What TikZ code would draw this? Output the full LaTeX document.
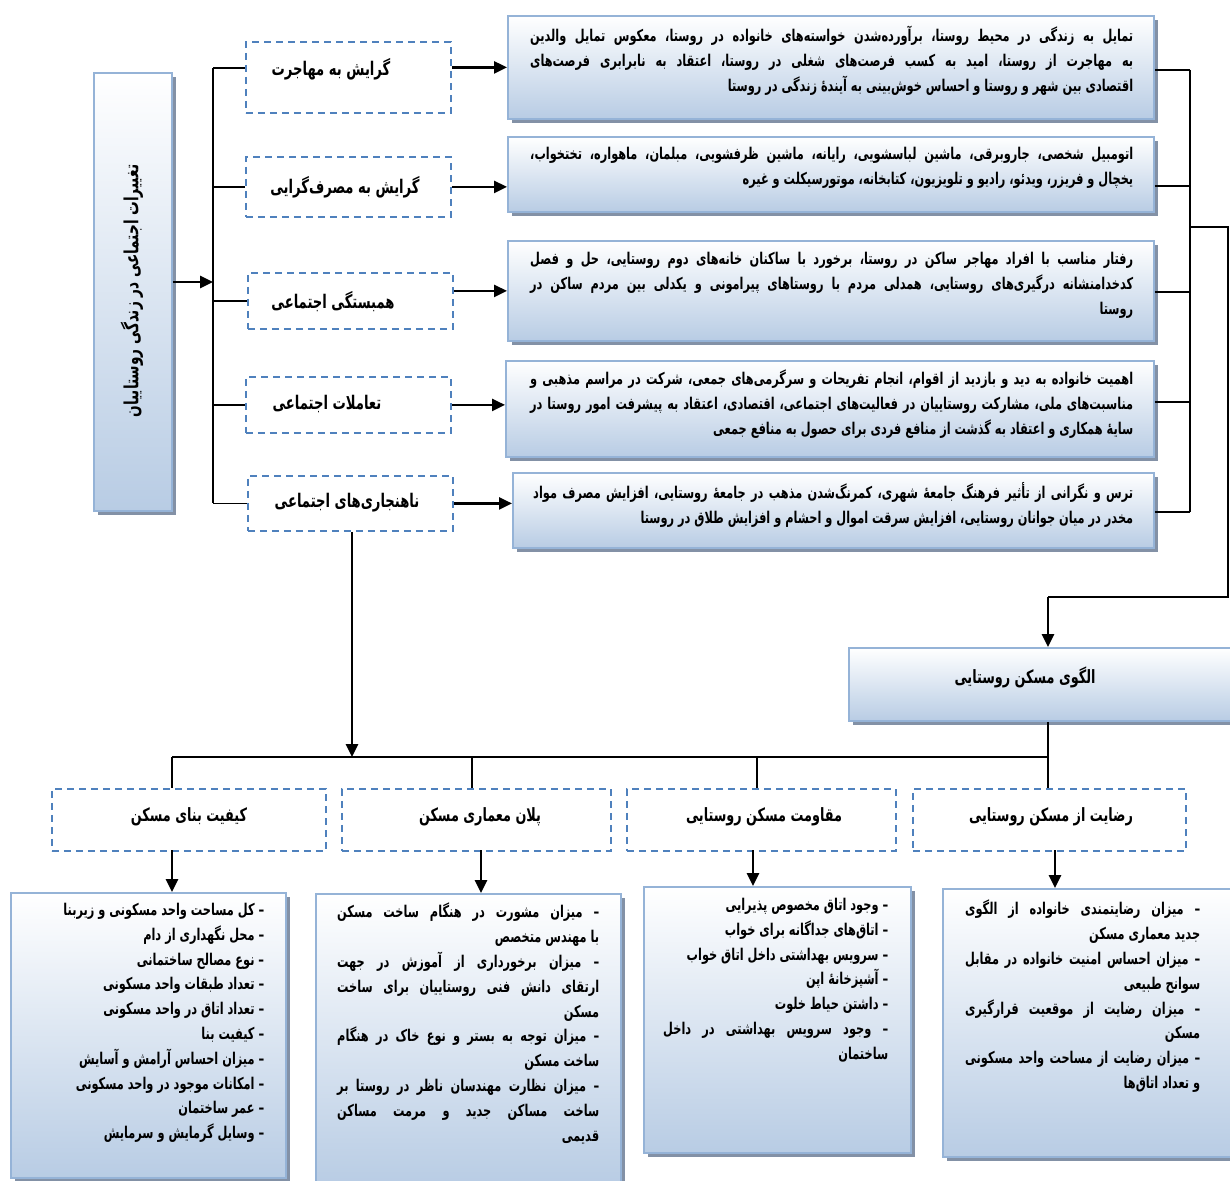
\documentclass[tikz,border=0pt]{standalone}
\usepackage{fontspec}
\newfontfamily\fa[Script=Arabic,FakeStretch=0.70]{DejaVu Sans}
\TeXXeTstate=1
\usetikzlibrary{shadows,arrows.meta}
\definecolor{bordblue}{HTML}{95B3D7}
\definecolor{dashblue}{HTML}{4F81BD}
\definecolor{gradbot}{HTML}{B8CCE4}
\definecolor{shadowc}{HTML}{8391A6}
% reverse the words of one line, so that each line can be set left to right and justified
\def\rvendmark{@@@}
\def\rvacc{}
\def\rvloop#1 {\def\rvtmp{#1}\ifx\rvtmp\rvendmark\let\rvnext\relax\else\edef\rvacc{\unexpanded{#1}\space\unexpanded\expandafter{\rvacc}}\let\rvnext\rvloop\fi\rvnext}
\newcommand\jl[1]{\def\rvacc{}\rvloop#1 @@@ \hbox to \hsize{\rvacc\unskip}}
\newcommand\rline[1]{\def\rvacc{}\rvloop#1 @@@ \hbox to \hsize{\hfill\rvacc\unskip}}
\newcommand\rl[1]{\beginR #1\endR}
\hbadness=10000 \hfuzz=20pt
\tikzset{
 gbox/.style={draw=bordblue, line width=1.8pt, top color=white, bottom color=gradbot,
   drop shadow={shadow xshift=4pt, shadow yshift=-4pt, fill=shadowc, opacity=1},
   inner sep=0pt, anchor=north west},
 dbox/.style={draw=dashblue, line width=1.8pt, dash pattern=on 7pt off 5pt, inner sep=0pt, anchor=north west},
 ptext/.style={inner sep=0pt, anchor=north west, font=\fa\bfseries\fontsize{16.2}{24.8}\selectfont},
 lab/.style={inner sep=0pt, font=\fa\bfseries\fontsize{18.3}{22}\selectfont},
 labd/.style={inner sep=0pt, font=\fa\bfseries\fontsize{18.8}{22}\selectfont},
 thinln/.style={line width=1.2pt},
 midln/.style={line width=2pt},
 arr/.style={line width=2.6pt, -{Triangle[length=13pt,width=12pt]}},
}
\begin{document}
\begin{tikzpicture}[x=1pt,y=-1pt]
\fill[white] (0,0) rectangle (1230,1180);
\useasboundingbox (0,0) rectangle (1230,1180);

% left box
\node[gbox, minimum width=78pt, minimum height=438pt] (L) at (93,72) {};
\node[labd, rotate=90, font=\fa\bfseries\fontsize{19.5}{22}\selectfont] (Lt) at (132,291) {\rl{تغییرات اجتماعی در زندگی روستاییان}};

% dashed boxes
\node[dbox, minimum width=205pt, minimum height=71pt] (D1) at (245,41) {};
\node[dbox, minimum width=205pt, minimum height=60pt] (D2) at (245,156) {};
\node[dbox, minimum width=205pt, minimum height=56pt] (D3) at (247,272) {};
\node[dbox, minimum width=205pt, minimum height=56pt] (D4) at (245,376) {};
\node[dbox, minimum width=205pt, minimum height=55pt] (D5) at (247,475) {};
\node[labd] (D1t) at (331,69) {\rl{گرایش به مهاجرت}};
\node[labd] (D2t) at (345,187) {\rl{گرایش به مصرف‌گرایی}};
\node[labd] (D3t) at (333,302) {\rl{همبستگی اجتماعی}};
\node[labd] (D4t) at (327,404) {\rl{تعاملات اجتماعی}};
\node[labd] (D5t) at (347,503) {\rl{ناهنجاری‌های اجتماعی}};

% right boxes
\node[gbox, minimum width=646pt, minimum height=103pt] (B1) at (507,15) {};
\node[gbox, minimum width=646pt, minimum height=75pt] (B2) at (507,136) {};
\node[gbox, minimum width=646pt, minimum height=100pt] (B3) at (507,240) {};
\node[gbox, minimum width=648pt, minimum height=96pt] (B4) at (505,360) {};
\node[gbox, minimum width=641pt, minimum height=75pt] (B5) at (512,472) {};
\node[ptext] (B1t) at (530,26) {\vbox{\hsize=603pt
 \jl{تمایل به زندگی در محیط روستا، برآورده‌شدن خواسته‌های خانواده در روستا، معکوس تمایل والدین}
 \jl{به مهاجرت از روستا، امید به کسب فرصت‌های شغلی در روستا، اعتقاد به نابرابری فرصت‌های}
 \rline{اقتصادی بین شهر و روستا و احساس خوش‌بینی به آیندهٔ زندگی در روستا}}};
\node[ptext] (B2t) at (530,147) {\vbox{\hsize=603pt
 \jl{اتومبیل شخصی، جاروبرقی، ماشین لباسشویی، رایانه، ماشین ظرفشویی، مبلمان، ماهواره، تختخواب،}
 \rline{یخچال و فریزر، ویدئو، رادیو و تلویزیون، کتابخانه، موتورسیکلت و غیره}}};
\node[ptext] (B3t) at (530,252) {\vbox{\hsize=603pt
 \jl{رفتار مناسب با افراد مهاجر ساکن در روستا، برخورد با ساکنان خانه‌های دوم روستایی، حل و فصل}
 \jl{کدخدامنشانه درگیری‌های روستایی، همدلی مردم با روستاهای پیرامونی و یکدلی بین مردم ساکن در}
 \rline{روستا}}};
\node[ptext] (B4t) at (530,370) {\vbox{\hsize=603pt
 \jl{اهمیت خانواده به دید و بازدید از اقوام، انجام تفریحات و سرگرمی‌های جمعی، شرکت در مراسم مذهبی و}
 \jl{مناسبت‌های ملی، مشارکت روستاییان در فعالیت‌های اجتماعی، اقتصادی، اعتقاد به پیشرفت امور روستا در}
 \rline{سایهٔ همکاری و اعتقاد به گذشت از منافع فردی برای حصول به منافع جمعی}}};
\node[ptext] (B5t) at (533,482) {\vbox{\hsize=600pt
 \jl{ترس و نگرانی از تأثیر فرهنگ جامعهٔ شهری، کمرنگ‌شدن مذهب در جامعهٔ روستایی، افزایش مصرف مواد}
 \rline{مخدر در میان جوانان روستایی، افزایش سرقت اموال و احشام و افزایش طلاق در روستا}}};

% pattern box
\node[gbox, minimum width=386pt, minimum height=73pt] (P) at (848,647) {};
\node[lab] (Pt) at (1025,677) {\rl{الگوی مسکن روستایی}};

% bottom dashed boxes
\node[dbox, minimum width=274pt, minimum height=62pt] (Q1) at (51,788) {};
\node[dbox, minimum width=269pt, minimum height=62pt] (Q2) at (341,788) {};
\node[dbox, minimum width=269pt, minimum height=62pt] (Q3) at (626,788) {};
\node[dbox, minimum width=273pt, minimum height=62pt] (Q4) at (912,788) {};
\node[lab] (Q1t) at (189,817) {\rl{کیفیت بنای مسکن}};
\node[lab] (Q2t) at (480,817) {\rl{پلان معماری مسکن}};
\node[lab] (Q3t) at (764,817) {\rl{مقاومت مسکن روستایی}};
\node[lab] (Q4t) at (1051,817) {\rl{رضایت از مسکن روستایی}};

% bottom boxes
\node[gbox, minimum width=275pt, minimum height=285pt] (E1) at (10,892) {};
\node[gbox, minimum width=305pt, minimum height=292pt] (E2) at (315,893) {};
\node[gbox, minimum width=267pt, minimum height=266pt] (E3) at (643,886) {};
\node[gbox, minimum width=292pt, minimum height=268pt] (E4) at (942,888) {};
\node[ptext] (E1t) at (33,903) {\vbox{\hsize=231pt
 \rline{– کل مساحت واحد مسکونی و زیربنا}
 \rline{– محل نگهداری از دام}
 \rline{– نوع مصالح ساختمانی}
 \rline{– تعداد طبقات واحد مسکونی}
 \rline{– تعداد اتاق در واحد مسکونی}
 \rline{– کیفیت بنا}
 \rline{– میزان احساس آرامش و آسایش}
 \rline{– امکانات موجود در واحد مسکونی}
 \rline{– عمر ساختمان}
 \rline{– وسایل گرمایش و سرمایش}}};
\node[ptext] (E2t) at (337,903) {\vbox{\hsize=262pt
 \jl{– میزان مشورت در هنگام ساخت مسکن}
 \rline{با مهندس متخصص}
 \jl{– میزان برخورداری از آموزش در جهت}
 \jl{ارتقای دانش فنی روستاییان برای ساخت}
 \rline{مسکن}
 \jl{– میزان توجه به بستر و نوع خاک در هنگام}
 \rline{ساخت مسکن}
 \jl{– میزان نظارت مهندسان ناظر در روستا بر}
 \jl{ساخت مساکن جدید و مرمت مساکن}
 \rline{قدیمی}}};
\node[ptext] (E3t) at (663,898) {\vbox{\hsize=225pt
 \rline{– وجود اتاق مخصوص پذیرایی}
 \rline{– اتاق‌های جداگانه برای خواب}
 \rline{– سرویس بهداشتی داخل اتاق خواب}
 \rline{– آشپزخانهٔ اپن}
 \rline{– داشتن حیاط خلوت}
 \jl{– وجود سرویس بهداشتی در داخل}
 \rline{ساختمان}}};
\node[ptext] (E4t) at (965,900) {\vbox{\hsize=235pt
 \jl{– میزان رضایتمندی خانواده از الگوی}
 \rline{جدید معماری مسکن}
 \jl{– میزان احساس امنیت خانواده در مقابل}
 \rline{سوانح طبیعی}
 \jl{– میزان رضایت از موقعیت قرارگیری}
 \rline{مسکن}
 \jl{– میزان رضایت از مساحت واحد مسکونی}
 \rline{و تعداد اتاق‌ها}}};

% left hub
\coordinate (hub) at (213,282);
\coordinate (vtop) at (213,68);
\coordinate (vbot) at (213,503);
\draw[arr] (L.east |- hub) -- (hub);
\draw[thinln] (vtop) -- (vbot);
\draw[thinln] (vtop) -- (vtop -| D1.west);
\draw[thinln] (D2.west -| vtop) -- (D2.west);
\draw[thinln] (D3.west -| vtop) -- (D3.west);
\draw[thinln] (D4.west -| vtop) -- (D4.west);
\draw[thinln] (D5.west -| vtop) -- (D5.west);

% dashed -> right boxes
\draw[arr] (D1.east |- B1.west) -- (B1.west);
\draw[arr] (D2.east) -- (D2.east -| B2.west);
\draw[arr] (D3.east |- B3.west) -- (B3.west);
\draw[arr] (D4.east) -- (D4.east -| B4.west);
\draw[arr] (D5.east) -- (D5.east -| B5.west);

% right bracket
\coordinate (r1) at (1190,70);
\coordinate (r2) at (1190,186);
\coordinate (r3) at (1190,292);
\coordinate (r4) at (1190,402);
\coordinate (r5) at (1190,512);
\draw[thinln] (r1) -- (r5);
\draw[thinln] (r1 -| B1.east) -- (r1);
\draw[thinln] (r2 -| B2.east) -- (r2);
\draw[thinln] (r3 -| B3.east) -- (r3);
\draw[thinln] (r4 -| B4.east) -- (r4);
\draw[thinln] (r5 -| B5.east) -- (r5);
\coordinate (rj) at (1190,227);
\coordinate (rc) at (1228,227);
\coordinate (rd) at (1228,597);
\coordinate (re) at (1048,597);
\draw[midln] (rj) -- (rc) -- (rd) -- (re);
\draw[arr] (re) -- (re |- P.north);

% bottom distribution
\coordinate (h1) at (172,757);
\coordinate (h2) at (472,757);
\coordinate (h3) at (757,757);
\coordinate (h4) at (1048,757);
\coordinate (nd) at (352,757);
\draw[thinln] (P.south -| h4) -- (h4);
\draw[thinln] (h1) -- (h4);
\draw[thinln] (h1) -- (h1 |- Q1.north);
\draw[thinln] (h2) -- (h2 |- Q2.north);
\draw[thinln] (h3) -- (h3 |- Q3.north);
\draw[thinln] (h4) -- (h4 |- Q4.north);
\draw[arr] (D5.south -| nd) -- (nd);

% bottom arrows
\coordinate (a1) at (172,850);
\coordinate (a2) at (481,850);
\coordinate (a3) at (753,850);
\coordinate (a4) at (1055,850);
\draw[arr] (a1) -- (a1 |- E1.north);
\draw[arr] (a2) -- (a2 |- E2.north);
\draw[arr] (a3) -- (a3 |- E3.north);
\draw[arr] (a4) -- (a4 |- E4.north);
\end{tikzpicture}
\end{document}
